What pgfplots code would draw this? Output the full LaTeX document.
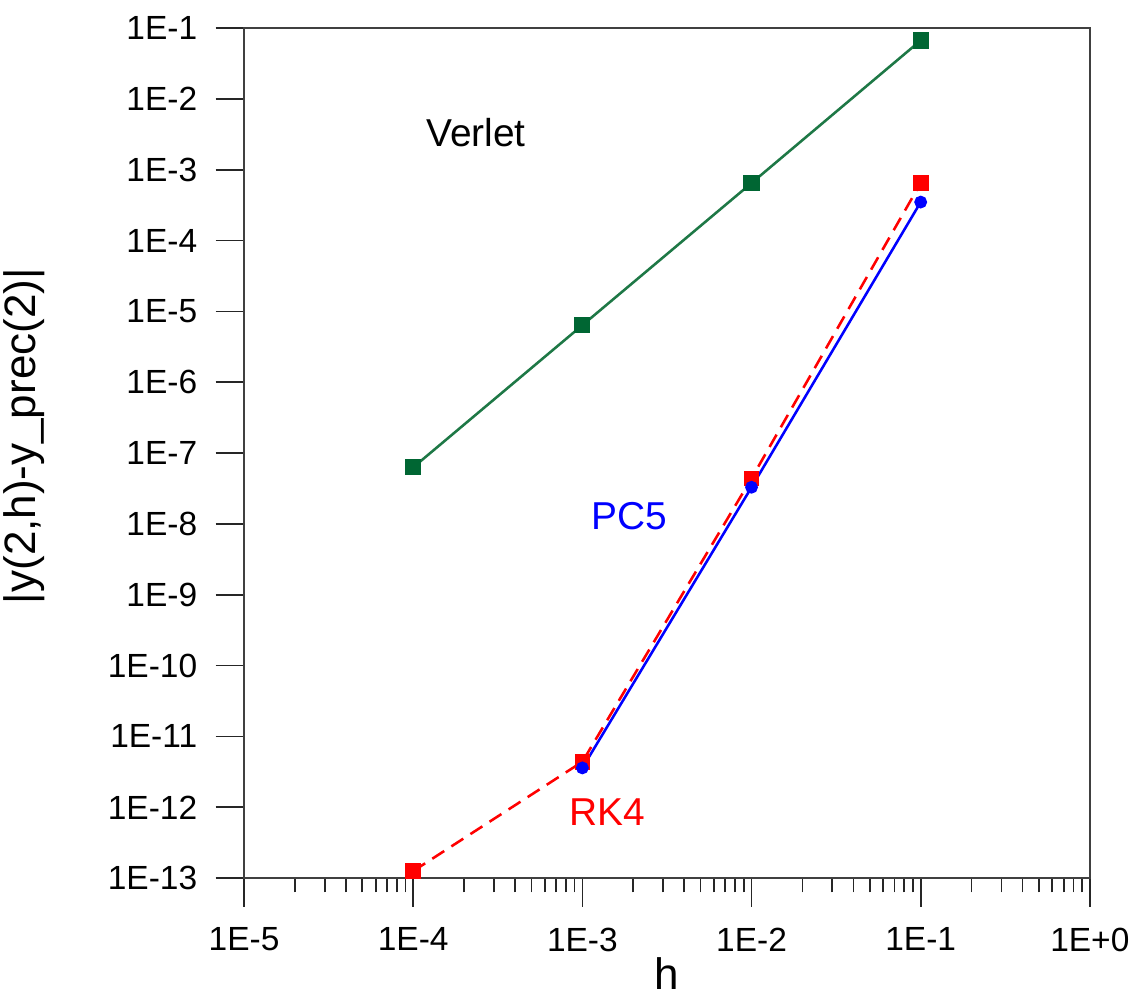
\documentclass[border=0pt]{standalone}
\usepackage{fontspec}
\setmainfont{Liberation Sans}
\usepackage{pgfplots}
\pgfplotsset{compat=1.18}
\definecolor{vgreen}{RGB}{0,102,51}
\definecolor{vgreenline}{RGB}{30,120,70}
\begin{document}
\begin{tikzpicture}
\begin{axis}[
  scale only axis,
  width=298pt, height=299.5pt,
  xmode=log, ymode=log,
  xmin=1e-5, xmax=1, ymin=1e-13, ymax=1e-1,
  axis line style={black!75, line width=0.7pt},
  tick align=outside,
  xtick pos=bottom, ytick pos=left,
  major tick length=10pt, minor tick length=5pt,
  every tick/.style={black!85, line width=0.6pt},
  yminorticks=false,
  xtick={1e-5,1e-4,1e-3,1e-2,1e-1,1},
  xticklabels={1E-5,1E-4,1E-3,1E-2,1E-1,1E+0},
  ytick={1e-13,1e-12,1e-11,1e-10,1e-9,1e-8,1e-7,1e-6,1e-5,1e-4,1e-3,1e-2,1e-1},
  yticklabels={1E-13,1E-12,1E-11,1E-10,1E-9,1E-8,1E-7,1E-6,1E-5,1E-4,1E-3,1E-2,1E-1},
  ticklabel style={font=\fontsize{11.8}{13}\selectfont},
  xticklabel style={yshift=-4pt},
  yticklabel style={xshift=-3pt},
  xlabel={h},
  ylabel={|y(2,h)-y\_prec(2)|},
  label style={font=\fontsize{15.5}{17}\selectfont},
  xlabel style={at={(axis description cs:0.5,0)}, anchor=center, yshift=-33.5pt},
  ylabel style={at={(axis description cs:-0.26,0.52)}, anchor=center},
  clip=false,
]
\addplot[color=vgreenline, line width=0.9pt, mark=square*, mark size=2.4pt,
  mark options={solid, fill=vgreen, draw=vgreen}]
  coordinates {(1e-4,6.3e-8) (1e-3,6.4e-6) (1e-2,6.5e-4) (1e-1,6.7e-2)};
\addplot[color=red, line width=0.9pt, dash pattern=on 5pt off 3pt, mark=square*, mark size=2.3pt,
  mark options={solid, fill=red}]
  coordinates {(1e-4,1.26e-13) (1e-3,4.4e-12) (1e-2,4.4e-8) (1e-1,6.5e-4)};
\addplot[color=blue, line width=0.9pt, mark=*, mark size=1.8pt,
  mark options={solid, fill=blue}]
  coordinates {(1e-3,3.6e-12) (1e-2,3.3e-8) (1e-1,3.5e-4)};
\node[font=\fontsize{13.7}{15}\selectfont, text=black] at (axis cs:2.35e-4,3.3e-3) {Verlet};
\node[font=\fontsize{13.7}{15}\selectfont, text=blue] at (axis cs:1.9e-3,1.3e-8) {PC5};
\node[font=\fontsize{13.7}{15}\selectfont, text=red] at (axis cs:1.4e-3,8.5e-13) {RK4};
\coordinate (ll) at (rel axis cs:0,0);
\coordinate (ur) at (rel axis cs:1,1);
\end{axis}
\pgfresetboundingbox
\path ([shift={(-86pt,-41.2pt)}]ll) rectangle ([shift={(15.9pt,9.9pt)}]ur);
\end{tikzpicture}
\end{document}
